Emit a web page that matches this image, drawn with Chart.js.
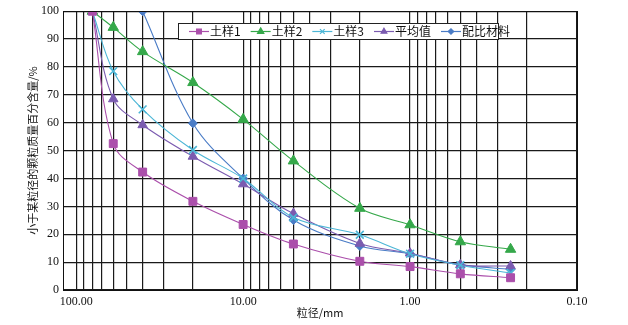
<!DOCTYPE html>
<html>
<head>
<meta charset="utf-8">
<script src="https://cdn.jsdelivr.net/npm/chart.js@4/dist/chart.umd.min.js"></script>
<style>
  html, body { margin: 0; padding: 0; background: #ffffff; }
  #wrap { width: 628px; height: 325px; position: relative; }
</style>
</head>
<body>
<div id="wrap"><canvas id="myChart"></canvas></div>
<script>
// sieve sizes (mm) and passing percentages
const sizes = [80, 60, 40, 20, 10, 5, 2, 1, 0.5, 0.25];
const soil1 = [100, 52.5, 42.3, 31.8, 23.5, 16.5, 10.3, 8.4, 5.8, 4.4];
const soil2 = [100, 94.2, 85.5, 74.4, 61.2, 46.3, 29.3, 23.4, 17.3, 14.6];
const soil3 = [100, 78.5, 64.8, 50.2, 40.0, 26.0, 19.8, 13.0, 8.9, 6.1];
const avgVals = [100, 68.5, 59.2, 47.9, 38.0, 27.4, 16.7, 13.2, 9.0, 8.6];
const mixVals = [null, null, 100, 59.8, 40.0, 25.1, 15.8, 13.0, 9.1, 7.4];

const seriesNames = ["土样1", "土样2", "土样3", "平均值", "配比材料"];
const xLabelVals = [100, 10, 1, 0.1];
const yLabelStep = 10;

const serif = "'Liberation Serif', 'Times New Roman', serif";
const cjk = "'Noto Sans CJK SC', 'Liberation Serif', serif";
Chart.defaults.font.family = serif;

const toPoints = (vals) => sizes.map((s, i) => ({x: s, y: vals[i]})).filter(p => p.y !== null);

// every 1..9 step of each decade gets a grid line
const gridVals = [];
[0.1, 1, 10].forEach(d => { for (let k = 1; k <= 9; k++) gridVals.push(d * k); });
gridVals.push(100);

const styles = [
    {color: "#ab4fab", point: "rect", radius: 5.6, bw: 1},
    {color: "#35a84a", point: "triangle", radius: 6, bw: 1},
    {color: "#4cb6d6", point: "crossRot", radius: 5.5, bw: 1.6},
    {color: "#7b5bb0", point: "triangle", radius: 5.5, bw: 1},
    {color: "#4a7cc6", point: "rectRot", radius: 4.5, bw: 1}
];
const allVals = [soil1, soil2, soil3, avgVals, mixVals];

const datasets = allVals.map((vals, i) => ({
    label: seriesNames[i],
    data: toPoints(vals),
    borderColor: styles[i].color,
    backgroundColor: styles[i].color,
    pointBackgroundColor: styles[i].color,
    pointBorderColor: styles[i].color,
    pointStyle: styles[i].point,
    pointRadius: styles[i].radius,
    pointBorderWidth: styles[i].bw,
    borderWidth: 1.1,
    tension: 0.35,
    fill: false
}));

// legend drawn as line + marker like an office chart
const lineLegend = {
    id: "lineLegend",
    afterDatasetsDraw(chart) {
        const ctx = chart.ctx;
        const bx = 178, by = 23, bw = 320, bh = 16;
        ctx.save();
        ctx.fillStyle = "#ffffff";
        ctx.fillRect(bx, by, bw, bh);
        ctx.strokeStyle = "#222";
        ctx.lineWidth = 1;
        ctx.strokeRect(bx + 0.5, by + 0.5, bw, bh);
        ctx.font = "12px " + cjk;
        ctx.textBaseline = "middle";
        let x = bx + 11;
        const cy = by + bh / 2 + 0.5;
        seriesNames.forEach((name, i) => {
            const st = styles[i];
            ctx.strokeStyle = st.color;
            ctx.lineWidth = 1.2;
            ctx.beginPath();
            ctx.moveTo(x, cy);
            ctx.lineTo(x + 20, cy);
            ctx.stroke();
            ctx.fillStyle = st.color;
            Chart.helpers.drawPoint(ctx, {pointStyle: st.point, radius: st.radius * 0.6, borderWidth: st.bw}, x + 10, cy);
            ctx.fillStyle = "#111";
            ctx.fillText(name, x + 21, cy);
            x += 21 + ctx.measureText(name).width + 10;
        });
        ctx.restore();
    }
};

const ctx = document.getElementById("myChart").getContext("2d");
const myChart = new Chart(ctx, {
    type: "line",
    data: {datasets: datasets},
    options: {
        responsive: true,
        maintainAspectRatio: false,
        animation: false,
        layout: {padding: {left: 0, right: 51, top: 8, bottom: 0}},
        plugins: {legend: {display: false}, tooltip: {enabled: false}},
        scales: {
            x: {
                type: "logarithmic",
                reverse: true,
                min: 0.1,
                max: 120,
                bounds: "data",
                afterBuildTicks: (scale) => {
                    scale.ticks = gridVals.map(v => ({value: v}));
                },
                afterFit: (scale) => { scale.height = 35; },
                ticks: {
                    autoSkip: false,
                    maxRotation: 0,
                    padding: 5,
                    color: "#111",
                    font: {family: serif, size: 12},
                    callback: (v) => {
                        const hit = xLabelVals.find(t => Math.abs(t - v) < 1e-9);
                        return hit !== undefined ? hit.toFixed(2) : "";
                    }
                },
                grid: {color: "#1a1a1a", lineWidth: 1.2, drawTicks: false},
                border: {color: "#111", width: 1},
                title: {
                    display: true,
                    text: "粒径/mm",
                    color: "#111",
                    font: {family: cjk, size: 11},
                    padding: {top: 0, bottom: 6}
                }
            },
            y: {
                min: 0,
                max: 100,
                afterFit: (scale) => { scale.width = 63; },
                ticks: {
                    stepSize: 5,
                    padding: 4,
                    color: "#111",
                    font: {family: serif, size: 12},
                    callback: (v) => v % yLabelStep === 0 ? v : ""
                },
                grid: {color: "#1a1a1a", lineWidth: 1.2, drawTicks: false},
                border: {color: "#111", width: 1},
                title: {
                    display: true,
                    text: "小于某粒径的颗粒质量百分含量/%",
                    color: "#111",
                    font: {family: cjk, size: 11},
                    padding: {top: 26, bottom: 0}
                }
            }
        }
    },
    plugins: [lineLegend, {
        id: "frame",
        afterDraw(chart) {
            const a = chart.chartArea, c = chart.ctx;
            c.save();
            c.strokeStyle = "#111";
            c.lineWidth = 1;
            c.strokeRect(Math.round(a.left) + 0.5, Math.round(a.top) + 0.5, Math.round(a.right - a.left), Math.round(a.bottom - a.top));
            c.restore();
        }
    }]
});
</script>
</body>
</html>
